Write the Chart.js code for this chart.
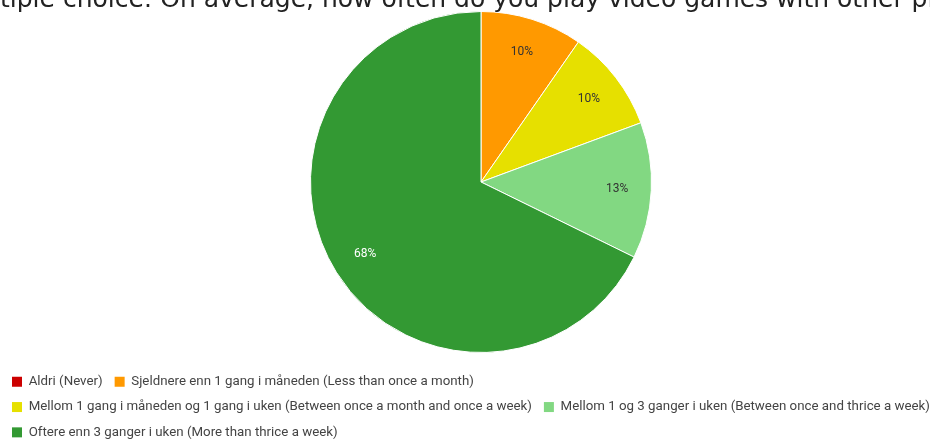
<!DOCTYPE html>
<html>
<head>
<meta charset="utf-8">
<script src="https://cdn.jsdelivr.net/npm/chart.js@4.4.1/dist/chart.umd.min.js"></script>
<style>
  html, body { margin: 0; padding: 0; background: #fff; overflow: hidden; }
  #wrap { position: relative; width: 930px; height: 439px; overflow: hidden; }
  #title {
    position: absolute; left: 0; top: -16px; width: 930px;
    text-align: center; white-space: nowrap;
    font: 25px "DejaVu Sans", sans-serif; color: #222;
  }
  #chart { position: absolute; left: 0; top: 0; }
</style>
</head>
<body>
<div id="wrap">
  <canvas id="chart" width="930" height="439"></canvas>
  <div id="title">tiple choice: On average, how often do you play video games with other pl</div>
</div>
<script>
const categories = [
  "Aldri (Never)",
  "Sjeldnere enn 1 gang i måneden (Less than once a month)",
  "Mellom 1 gang i måneden og 1 gang i uken (Between once a month and once a week)",
  "Mellom 1 og 3 ganger i uken (Between once and thrice a week)",
  "Oftere enn 3 ganger i uken (More than thrice a week)"
];
const answers = [0, 3, 3, 4, 21];
const sliceColors = ["#cc0000", "#ff9900", "#e6e000", "#82d882", "#339933"];
const labelColors = ["#ffffff", "#333333", "#333333", "#333333", "#ffffff"];

// pie sits off-centre above the legend
const pieBox = { cx: 481, cy: 182, r: 171 };
const legendDrop = 10;

const placePie = {
  id: "placePie",
  afterLayout(chart) {
    const a = chart.chartArea;
    a.left = pieBox.cx - pieBox.r;
    a.right = pieBox.cx + pieBox.r;
    a.top = pieBox.cy - pieBox.r;
    a.bottom = pieBox.cy + pieBox.r;
    a.width = a.right - a.left;
    a.height = a.bottom - a.top;
    // legend rows hug the bottom edge
    chart.legend.top += legendDrop;
    chart.legend.bottom += legendDrop;
  }
};

// percent labels, placed at 80% of the radius along each slice's middle
const pctLabels = {
  id: "pctLabels",
  afterDatasetsDraw(chart) {
    const ctx = chart.ctx;
    const meta = chart.getDatasetMeta(0);
    const total = answers.reduce((a, b) => a + b, 0);
    ctx.save();
    ctx.font = "12px Roboto";
    ctx.textAlign = "center";
    ctx.textBaseline = "middle";
    meta.data.forEach((arc, i) => {
      if (!answers[i]) return;
      const p = arc.getProps(["x", "y", "startAngle", "endAngle", "outerRadius"], true);
      const mid = (p.startAngle + p.endAngle) / 2;
      const r = p.outerRadius * 0.8;
      ctx.fillStyle = labelColors[i];
      ctx.fillText(Math.round(answers[i] / total * 100) + "%", p.x + Math.cos(mid) * r, p.y + Math.sin(mid) * r);
    });
    ctx.restore();
  }
};

new Chart("chart", {
  type: "pie",
  data: {
    labels: categories,
    datasets: [{
      data: answers,
      backgroundColor: sliceColors,
      borderColor: "#ffffff",
      borderWidth: 1
    }]
  },
  options: {
    responsive: false,
    animation: false,
    layout: { padding: { top: 0, left: 0, right: -30, bottom: 0 } },
    plugins: {
      tooltip: { enabled: false },
      legend: {
        position: "bottom",
        align: "start",
        labels: {
          boxWidth: 10,
          boxHeight: 10,
          padding: 12,
          color: "#444",
          font: { family: "Roboto", size: 13.3 },
          generateLabels(chart) {
            const items = Chart.overrides.pie.plugins.legend.labels.generateLabels(chart);
            items.forEach(it => { it.lineWidth = 0; });
            return items;
          }
        }
      }
    }
  },
  plugins: [placePie, pctLabels]
});
</script>
</body>
</html>
